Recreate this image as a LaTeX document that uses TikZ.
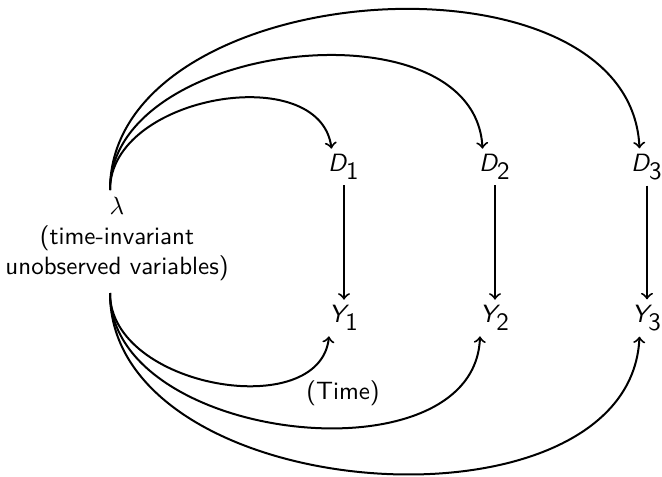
\documentclass[tikz,border=0pt]{standalone}
\usepackage{tikz}
\renewcommand{\familydefault}{\sfdefault}
\DeclareMathAlphabet{\mathsfit}{OT1}{cmss}{m}{sl}
\newcommand{\sv}[2]{$\mathsfit{#1}_{\textsf{#2}}$}
\begin{document}
\begin{tikzpicture}[x=0.4pt,y=-0.4pt,
  lbl/.style={inner sep=2pt, font=\sffamily},
  arr/.style={->, line width=0.8pt}]
\useasboundingbox (0,0) rectangle (662,476);
\node[lbl, align=center] (l) at (117,239) {$\lambda$\\(time-invariant\\unobserved variables)};
\coordinate (lt) at (110,190);
\coordinate (lb) at (110,293);
\node[lbl] (D1) at (344,167) {\sv{D}{1}};
\node[lbl] (D2) at (495,167) {\sv{D}{2}};
\node[lbl] (D3) at (647,167) {\sv{D}{3}};
\node[lbl] (Y1) at (344,318) {\sv{Y}{1}};
\node[lbl] (Y2) at (495,318) {\sv{Y}{2}};
\node[lbl] (Y3) at (647,318) {\sv{Y}{3}};
\node[lbl] (time) at (343,393) {(Time)};
\draw[arr] (D1) -- (Y1);
\draw[arr] (D2) -- (Y2);
\draw[arr] (D3) -- (Y3);
\draw[arr] (lt) .. controls (110,95) and (320,60) .. ([xshift=-5pt]D1.north);
\draw[arr] (lt) .. controls (110,40) and (475,0) .. ([xshift=-5pt]D2.north);
\draw[arr] (lt) .. controls (110,-25) and (630,-60) .. ([xshift=-3pt]D3.north);
\draw[arr] (lb) .. controls (110,388) and (320,423) .. ([xshift=-6pt]Y1.south);
\draw[arr] (lb) .. controls (110,443) and (475,483) .. ([xshift=-6pt]Y2.south);
\draw[arr] (lb) .. controls (110,508) and (630,543) .. ([xshift=-3pt]Y3.south);
\end{tikzpicture}
\end{document}
